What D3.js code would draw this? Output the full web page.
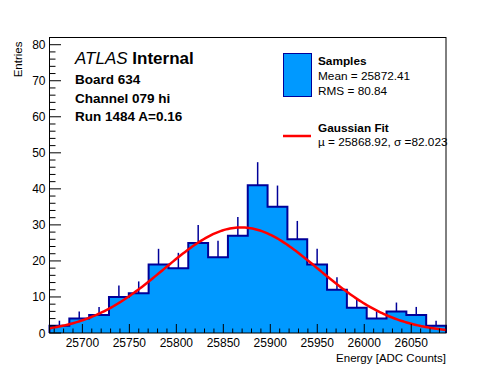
<!DOCTYPE html>
<html>
<head>
<meta charset="utf-8">
<script src="https://cdn.jsdelivr.net/npm/d3@7"></script>
<style>
  html, body { margin: 0; padding: 0; background: #fff; }
  svg { display: block; font-family: "Liberation Sans", Arial, Helvetica, sans-serif; }
</style>
</head>
<body>
<svg id="chart" width="496" height="372"></svg>
<script>
// histogram: 20 bins between histRange[0] and histRange[1]
const histRange = [25665, 26087];
const counts = [2, 4, 5, 10, 11, 19, 18, 25, 21, 27, 41, 35, 26, 19, 12, 7, 4, 6, 5, 2];

// gaussian fit (values from the legend, peak)
const fitMu = 25868.92;
const fitSigma = 82.023;
const fitPeak = 29.3;

const xTicks = [25700, 25750, 25800, 25850, 25900, 25950, 26000, 26050];
const yTicks = [0, 10, 20, 30, 40, 50, 60, 70, 80];
const yMax = 82;

const infoLines = ["Board 634", "Channel 079 hi", "Run 1484 A=0.16"];
const statsLines = ["Mean = 25872.41", "RMS = 80.84"];
const fitLine = "\u00b5 = 25868.92, \u03c3 =82.023";

const svg = d3.select("#chart");
const W = +svg.attr("width"), H = +svg.attr("height");
const margin = { top: 37.5, right: 50, bottom: 39, left: 49.5 };
const width = W - margin.left - margin.right;
const height = H - margin.top - margin.bottom;

const g = svg.append("g").attr("transform", `translate(${margin.left},${margin.top})`);

const x = d3.scaleLinear().domain(histRange).range([0, width]);
const y = d3.scaleLinear().domain([0, yMax]).range([height, 0]);

const binW = (histRange[1] - histRange[0]) / counts.length;
const bins = counts.map((c, i) => ({
  x0: histRange[0] + i * binW,
  x1: histRange[0] + (i + 1) * binW,
  n: c
}));

// filled histogram
const stepPts = [[x(histRange[0]), y(0)]];
bins.forEach(b => {
  stepPts.push([x(b.x0), y(b.n)]);
  stepPts.push([x(b.x1), y(b.n)]);
});
stepPts.push([x(histRange[1]), y(0)]);

g.append("path")
  .attr("d", d3.line()(stepPts))
  .attr("fill", "#0099ff")
  .attr("stroke", "#000099")
  .attr("stroke-width", 2)
  .attr("stroke-linejoin", "miter");

// error bars (upper half, lower half hidden by the fill)
g.selectAll("line.err")
  .data(bins)
  .enter()
  .append("line")
  .attr("class", "err")
  .attr("x1", d => x((d.x0 + d.x1) / 2))
  .attr("x2", d => x((d.x0 + d.x1) / 2))
  .attr("y1", d => y(d.n))
  .attr("y2", d => y(d.n + Math.sqrt(d.n)))
  .attr("stroke", "#000099")
  .attr("stroke-width", 1.5);

// gaussian fit curve
const fitX = d3.range(histRange[0], histRange[1] + 0.1, 2);
const gauss = v => fitPeak * Math.exp(-0.5 * Math.pow((v - fitMu) / fitSigma, 2));
g.append("path")
  .attr("d", d3.line().x(v => x(v)).y(v => y(gauss(v)))(fitX))
  .attr("fill", "none")
  .attr("stroke", "#ff0000")
  .attr("stroke-width", 2.5);

// frame
g.append("rect")
  .attr("width", width)
  .attr("height", height)
  .attr("fill", "none")
  .attr("stroke", "#000")
  .attr("stroke-width", 1);

// x ticks (inside, ROOT style)
const xMinor = d3.range(25670, histRange[1], 10);
g.selectAll("line.xminor")
  .data(xMinor)
  .enter()
  .append("line")
  .attr("x1", d => x(d)).attr("x2", d => x(d))
  .attr("y1", height).attr("y2", d => height - (xTicks.includes(d) ? 9 : 4.5))
  .attr("stroke", "#000").attr("stroke-width", 1);

g.selectAll("text.xlab")
  .data(xTicks)
  .enter()
  .append("text")
  .attr("x", d => x(d))
  .attr("y", height + 14)
  .attr("text-anchor", "middle")
  .attr("font-size", 12)
  .text(d => d);

// y ticks
const yMinor = d3.range(0, yMax + 0.1, 2);
g.selectAll("line.yminor")
  .data(yMinor)
  .enter()
  .append("line")
  .attr("x1", 0).attr("x2", d => (yTicks.includes(d) ? 11.5 : 6))
  .attr("y1", d => y(d)).attr("y2", d => y(d))
  .attr("stroke", "#000").attr("stroke-width", 1);

g.selectAll("text.ylab")
  .data(yTicks)
  .enter()
  .append("text")
  .attr("x", -4)
  .attr("y", d => y(d) + 4.5)
  .attr("text-anchor", "end")
  .attr("font-size", 12)
  .text(d => d);

// axis titles
svg.append("text")
  .attr("x", margin.left + width)
  .attr("y", margin.top + height + 29)
  .attr("text-anchor", "end")
  .attr("font-size", 11.5)
  .text("Energy [ADC Counts]");

svg.append("text")
  .attr("transform", `translate(22,${margin.top + 4}) rotate(-90)`)
  .attr("text-anchor", "end")
  .attr("font-size", 11.5)
  .text("Entries");

// ATLAS label
const atlas = svg.append("text")
  .attr("x", 75).attr("y", 64)
  .attr("font-size", 17);
atlas.append("tspan").attr("font-style", "italic").text("ATLAS");
atlas.append("tspan").attr("font-weight", "bold").text(" Internal");

svg.selectAll("text.info")
  .data(infoLines)
  .enter()
  .append("text")
  .attr("x", 75)
  .attr("y", (d, i) => 84 + i * 18.5)
  .attr("font-size", 13.5)
  .attr("font-weight", "bold")
  .text(d => d);

// legend
svg.append("rect")
  .attr("x", 283.5).attr("y", 53.5)
  .attr("width", 28).attr("height", 43)
  .attr("fill", "#0099ff")
  .attr("stroke", "#000099")
  .attr("stroke-width", 1);

svg.append("text")
  .attr("x", 318).attr("y", 65)
  .attr("font-size", 11.8).attr("font-weight", "bold")
  .text("Samples");

svg.selectAll("text.stats")
  .data(statsLines)
  .enter()
  .append("text")
  .attr("x", 318)
  .attr("y", (d, i) => 80 + i * 14.5)
  .attr("font-size", 11.8)
  .text(d => d);

svg.append("line")
  .attr("x1", 283).attr("x2", 311)
  .attr("y1", 136).attr("y2", 136)
  .attr("stroke", "#ff0000").attr("stroke-width", 2.5);

svg.append("text")
  .attr("x", 318).attr("y", 132)
  .attr("font-size", 11.8).attr("font-weight", "bold")
  .text("Gaussian Fit");

svg.append("text")
  .attr("x", 318).attr("y", 146)
  .attr("font-size", 11.8)
  .text(fitLine);
</script>
</body>
</html>
